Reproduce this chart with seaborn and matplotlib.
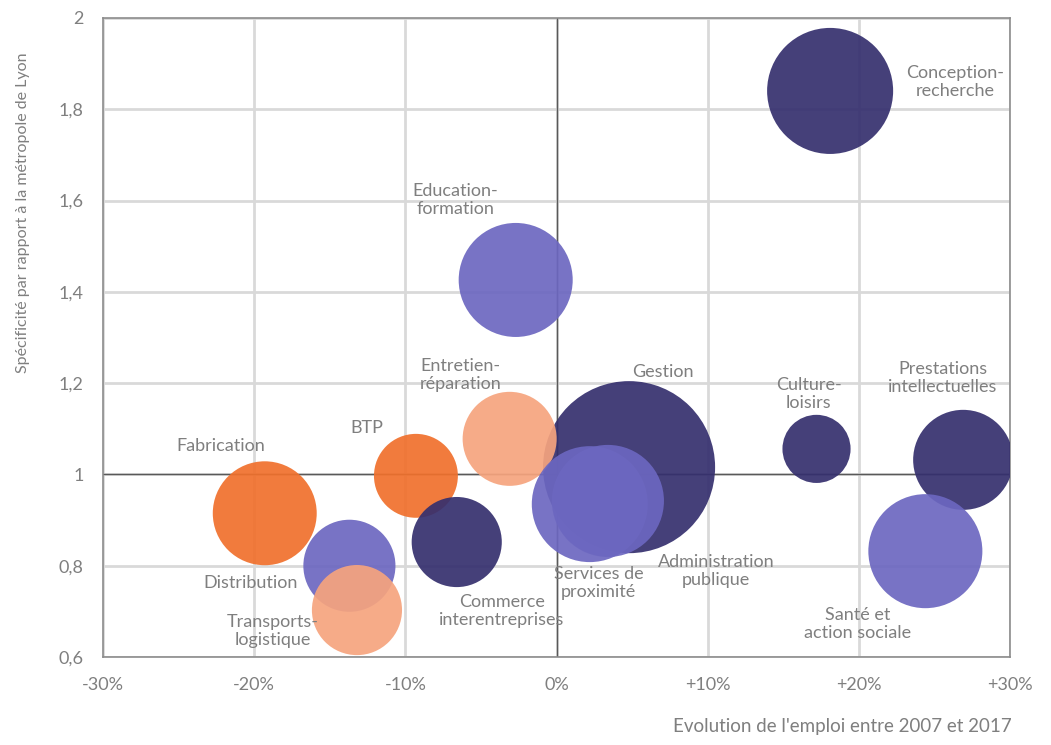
import matplotlib
matplotlib.use("Agg")
import matplotlib.pyplot as plt
import seaborn as sns
import pandas as pd
from matplotlib.ticker import FixedLocator, FuncFormatter

# Data
secteurs = ["Conception-\nrecherche", "Education-\nformation", "Gestion",
            "Entretien-\nréparation", "Services de\nproximité", "Administration\npublique",
            "Culture-\nloisirs", "Prestations\nintellectuelles", "Santé et\naction sociale",
            "Fabrication", "BTP", "Commerce\ninterentreprises", "Distribution",
            "Transports-\nlogistique"]
evolution = [0.181, -0.027, 0.048, -0.031, 0.022, 0.034, 0.172, 0.269, 0.244,
             -0.193, -0.093, -0.066, -0.137, -0.132]
specificite = [1.84, 1.426, 1.016, 1.078, 0.935, 0.942, 1.056, 1.032, 0.832,
               0.915, 0.997, 0.852, 0.800, 0.703]
emplois = [39.7, 32.5, 74.0, 22.1, 33.6, 31.4, 11.6, 25.0, 32.5,
           27.0, 17.6, 20.3, 21.2, 20.3]
groupe = ["A", "B", "A", "D", "B", "B", "A", "A", "B", "C", "C", "A", "B", "D"]

x_ticks = [-0.3, -0.2, -0.1, 0.0, 0.1, 0.2, 0.3]
y_ticks = [0.6, 0.8, 1.0, 1.2, 1.4, 1.6, 1.8, 2.0]

palette = {"A": "#352f6e", "B": "#6c67c0", "C": "#f0702c", "D": "#f6a47e"}

# label offsets in pixels from the bubble centre
offsets = [(125, 9), (-60, 80), (34, 95), (-49, 64), (9, -79), (108, -70),
           (-8, 55), (-20, 82), (-68, -73), (-44, 67), (-49, 48), (45, -69),
           (-99, -17), (-84, -21)]

df = pd.DataFrame({"secteur": secteurs, "evolution": evolution,
                   "specificite": specificite, "emplois": emplois, "groupe": groupe})

sns.set_style("white")
plt.rcParams["font.family"] = ["Lato", "DejaVu Sans"]

GREY = "#7f7f7f"
fig = plt.figure(figsize=(10.51, 7.45), dpi=100)
ax = fig.add_axes([0.098, 0.118, 0.863, 0.858])

# marker area proportional to employment
k = 207.4
sns.scatterplot(data=df, x="evolution", y="specificite", hue="groupe", size="emplois",
                sizes=(k * min(emplois), k * max(emplois)), palette=palette,
                alpha=0.92, linewidth=0, legend=False, ax=ax, zorder=3)

ax.set_xlim(-0.3, 0.3)
ax.set_ylim(0.6, 2.0)
ax.xaxis.set_major_locator(FixedLocator(x_ticks))
ax.yaxis.set_major_locator(FixedLocator(y_ticks))


def fmt_x(v, pos):
    p = int(round(v * 100))
    return f"+{p}%" if p > 0 else f"{p}%"


def fmt_y(v, pos):
    s = f"{v:.1f}".rstrip("0").rstrip(".")
    return s.replace(".", ",")


ax.xaxis.set_major_formatter(FuncFormatter(fmt_x))
ax.yaxis.set_major_formatter(FuncFormatter(fmt_y))
ax.tick_params(axis="both", length=0, labelsize=13, colors=GREY)
ax.tick_params(axis="x", pad=14)
ax.tick_params(axis="y", pad=14)

ax.grid(True, color="#d9d9d9", linewidth=2, zorder=0)
ax.set_axisbelow(True)
ax.axvline(0, color="#595959", linewidth=1, zorder=1)
ax.axhline(1, color="#595959", linewidth=1, zorder=1)
for sp in ax.spines.values():
    sp.set_color("#8c8c8c")
    sp.set_linewidth(1.2)

for i, name in enumerate(secteurs):
    ax.annotate(name, (evolution[i], specificite[i]), xytext=offsets[i],
                textcoords="offset pixels", ha="center", va="center",
                fontsize=13, color=GREY, linespacing=1.2, zorder=5)

ax.set_xlabel("")
ax.set_ylabel("")
fig.text(0.022, 0.715, "Spécificité par rapport à la métropole de Lyon", rotation=90,
         ha="center", va="center", fontsize=11.5, color=GREY)
fig.text(0.963, 0.013, "Evolution de l'emploi entre 2007 et 2017",
         ha="right", va="bottom", fontsize=13.5, color=GREY)

fig.savefig("out.png", dpi=100)
